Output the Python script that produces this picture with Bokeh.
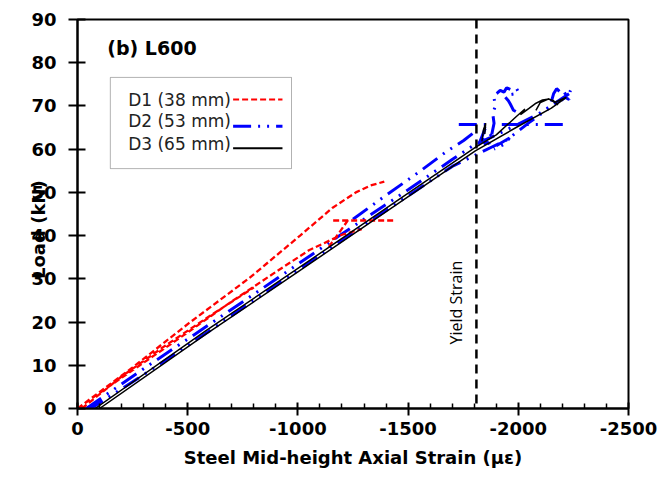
import math
from bokeh.plotting import figure
from bokeh.models import Range1d, FixedTicker, Span, Label, BoxAnnotation, Arrow
from bokeh.embed import file_html
from bokeh.resources import INLINE

nan = float("nan")

# ---------------- data ----------------
x_ticks = [0, -500, -1000, -1500, -2000, -2500]
x_tick_labels = ["0", "-500", "-1000", "-1500", "-2000", "-2500"]
x_minor_ticks = [0, -100, -200, -300, -400, -600, -700, -800, -900, -1100, -1200, -1300, -1400,
                 -1600, -1700, -1800, -1900, -2100, -2200, -2300, -2400]
y_ticks = [0, 10, 20, 30, 40, 50, 60, 70, 80, 90]
y_tick_labels = ["0", "10", "20", "30", "40", "50", "60", "70", "80", "90"]

yield_strain = -1810

series_names = ["D1 (38 mm)", "D2 (53 mm)", "D3 (65 mm)"]

# D1 (38 mm) - red dashed; segments separated by NaN
d1_strain = [0, -100, -300, -500, -700, -900, -1050, -1200, -1290, nan,
             -1140, -1185, -1233, nan,
             -1160, -1435, nan,
             0, -250, -507, -780, -1010, -1156, -1263, -1330, -1392, nan,
             -20, -200, -400, -600, -800]
d1_load = [0, 3.6, 10.6, 17.6, 24.8, 31.6, 36.6, 40.2, 41.5, nan,
           37.4, 40.5, 44.0, nan,
           43.5, 43.5, nan,
           0, 9.5, 19.8, 30.2, 40.0, 46.4, 50.0, 51.6, 52.5, nan,
           0, 7.4, 14.6, 21.4, 28.0]

# D2 (53 mm) - blue dash-dot
d2_strain = [-40, -300, -600, -900, -1200, -1500, -1700, -1800, -1900, -2000, -2100, -2230, nan,
             -2230, -2050, -1950, -1880, -1700, -1400, -1000, -600, -300, -60, nan,
             -1250, -1399, -1549, -1670, -1752, -1800, nan,
             -1730, -2218, nan,
             -1820, -1850, -1880, -1860, -1835, -1870, nan,
             -1880, -1890, -1884, -1896, -1888, -1905, -1918, -1935, -1947, -1970, -1992,
             -2001, -1985, -1960, -1941, -1955, -1963, -1972, -1978, -2000, -2015, nan,
             -2150, -2160, -2174, -2190, -2204, -2218, -2236, -2230, -2212, -2195, nan,
             -1900, -1960, -1940, -1890]
d2_load = [0, 9.2, 19.5, 29.9, 40.4, 50.6, 57.6, 61.0, 63.3, 65.8, 68.4, 72.8, nan,
           72.8, 66.2, 62.2, 60.5, 56.0, 45.8, 32.0, 18.0, 7.8, 0, nan,
           43.8, 49.3, 54.7, 59.3, 62.0, 63.9, nan,
           65.7, 65.7, nan,
           61.0, 64.8, 63.0, 60.4, 62.5, 61.2, nan,
           63.5, 66.0, 68.2, 70.0, 72.4, 73.0, 73.6, 73.2, 74.2, 73.7, 74.0,
           73.2, 72.8, 72.6, 72.0, 71.2, 70.5, 69.6, 69.0, 68.4, 68.2, nan,
           71.0, 72.8, 74.0, 73.2, 73.6, 72.4, 73.5, 71.5, 72.0, 71.3, nan,
           60.8, 62.6, 61.2, 60.0]

# D3 (65 mm) - black solid
d3_strain = [-80, -583, -1000, -1459, -1805, -1900, -1990, -2030, -2010, -2050, -2076, -2110,
             -2140, -2165, -2218, -2150, -2000, -1805, -1459, -1000, -583, -100, nan,
             -1835, -1842, -1852, -1848, nan,
             -2080, -2100, -2136, -2160, -2180]
d3_load = [0, 18.0, 32.4, 48.4, 60.4, 63.3, 67.5, 69.3, 68.0, 69.5, 70.5, 71.4,
           71.6, 70.8, 72.0, 69.5, 65.3, 59.6, 47.6, 31.6, 17.2, 0, nan,
           61.8, 64.5, 66.0, 63.5, nan,
           69.0, 70.8, 71.6, 71.2, 70.2]

# ---------------- styling / layout ----------------
BOLD_FONT = "DejaVu Sans"
RED, BLUE, BLACK = "#ff0000", "#0000ff", "#000000"
RED_DASH = "6 3"
BLUE_DASH = "18 7 2 7 2 7"

p = figure(width=660, height=478, output_backend="svg", toolbar_location=None,
           x_range=Range1d(0, -2500), y_range=Range1d(0, 90),
           min_border_left=77, min_border_right=32, min_border_top=19, min_border_bottom=70)
p.background_fill_color = "white"
p.border_fill_color = "white"
p.outline_line_color = "black"
p.outline_line_width = 2
p.grid.visible = False

# axes
p.xaxis.ticker = FixedTicker(ticks=x_ticks, minor_ticks=x_minor_ticks)
p.xaxis.major_label_overrides = {t: l for t, l in zip(x_ticks, x_tick_labels)}
p.yaxis.ticker = FixedTicker(ticks=y_ticks, minor_ticks=[])
p.yaxis.major_label_overrides = {t: l for t, l in zip(y_ticks, y_tick_labels)}

for ax in (p.xaxis, p.yaxis):
    ax.axis_line_width = 2
    ax.axis_line_color = "black"
    ax.major_tick_line_width = 2
    ax.major_tick_line_color = "black"
    ax.minor_tick_line_width = 1.5
    ax.minor_tick_line_color = "black"
    ax.major_label_text_font = BOLD_FONT
    ax.major_label_text_font_style = "bold"
    ax.major_label_text_font_size = "18px"
    ax.major_label_text_color = "black"
    ax.axis_label_text_font = BOLD_FONT
    ax.axis_label_text_font_style = "bold"
    ax.axis_label_text_font_size = "18px"
    ax.axis_label_text_color = "black"

p.xaxis.major_tick_in = 6
p.xaxis.major_tick_out = 7
p.xaxis.minor_tick_in = 5
p.xaxis.minor_tick_out = 0
p.xaxis.major_label_standoff = 6
p.xaxis.axis_label = "Steel Mid-height Axial Strain (\u03bc\u03b5)"
p.xaxis.axis_label_standoff = 9

p.yaxis.major_tick_in = 8
p.yaxis.major_tick_out = 9
p.yaxis.major_label_standoff = 12
p.yaxis.axis_label = "Load (kN)" + "\u00a0" * 5
p.yaxis.axis_label_standoff = -21

# yield strain line
p.add_layout(Span(location=yield_strain, dimension="height", line_color="black",
                  line_width=2.5, line_dash="9 6"))

# data lines
p.line(d2_strain, d2_load, line_color=BLUE, line_width=3, line_dash=BLUE_DASH)
p.line(d1_strain, d1_load, line_color=RED, line_width=2.3, line_dash=RED_DASH)
p.line(d3_strain, d3_load, line_color=BLACK, line_width=1.5)

# annotations
p.add_layout(Label(x=-1716, y=24.5, text="Yield Strain", angle=math.pi / 2,
                   text_align="center", text_baseline="middle",
                   text_font="Open Sans", text_font_size="16px", text_color="black"))
p.add_layout(Label(x=-135, y=83.3, text="(b) L600", text_align="left", text_baseline="middle",
                   text_font=BOLD_FONT, text_font_style="bold", text_font_size="19px",
                   text_color="black"))

# custom legend (label left, sample right)
p.add_layout(BoxAnnotation(left=-149, right=-971, top=76.6, bottom=55.5,
                           fill_color="white", fill_alpha=1, line_color="black",
                           line_width=1, level="annotation"))
legend_text_y = [71.3, 66.6, 61.3]
legend_line_y = [71.5, 65.3, 60.2]
legend_styles = [(RED, RED_DASH, 2), (BLUE, BLUE_DASH, 3), (BLACK, "solid", 2)]
for name, ty, ly, (col, dash, lw) in zip(series_names, legend_text_y, legend_line_y, legend_styles):
    p.add_layout(Label(x=-696, y=ty, text=name, text_align="right", text_baseline="middle",
                       text_font="DejaVu Sans", text_font_size="17px",
                       text_color="#222222"))
    p.add_layout(Arrow(end=None, x_start=-706, y_start=ly, x_end=-930, y_end=ly,
                       line_color=col, line_width=lw, line_dash=dash))

open("out.html", "w").write(file_html(p, INLINE))
